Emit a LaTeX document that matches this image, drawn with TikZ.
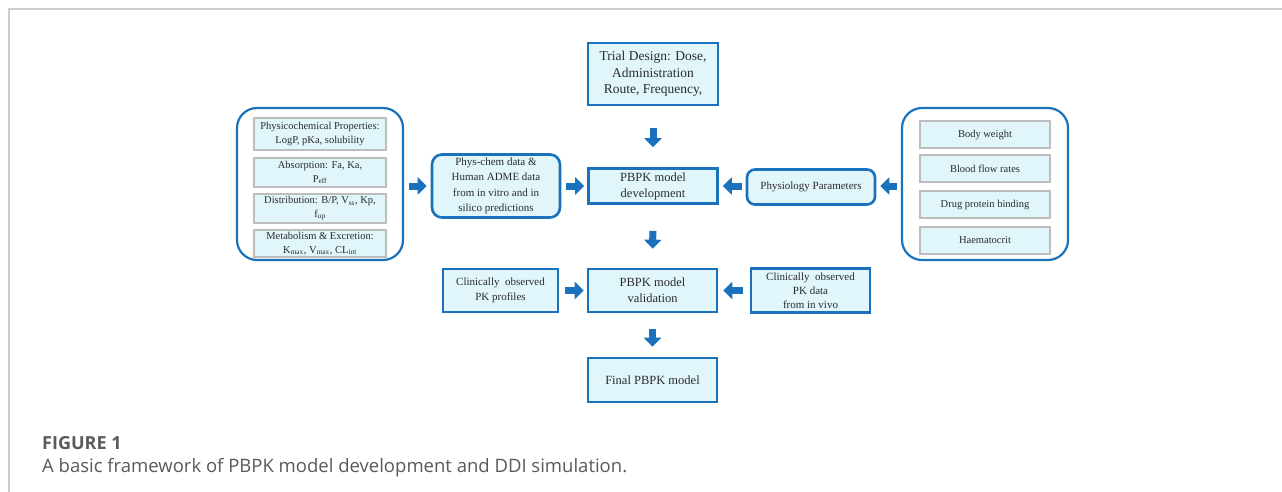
\documentclass[tikz,border=0pt]{standalone}
\usepackage{fontspec}
\setmainfont{Liberation Serif}
\newfontfamily\capfont{Open Sans}
\usetikzlibrary{arrows.meta}
\definecolor{bblue}{HTML}{1A72BD}
\definecolor{afill}{HTML}{E0F6FB}
\definecolor{ibord}{HTML}{BDBDBD}
\definecolor{txt}{HTML}{2B2B2B}
\definecolor{capc}{HTML}{5A5A5A}
\definecolor{framec}{HTML}{CCCCCC}
\begin{document}
\begin{tikzpicture}[x=1pt,y=-1pt,
 mainbox/.style={draw=bblue, line width=2.6pt, fill=afill, align=center, text=txt, inner sep=0pt, font=\fontsize{11}{15}\selectfont},
 bigbox/.style={mainbox, font=\fontsize{12.5}{16}\selectfont},
 roundbox/.style={mainbox, rounded corners=10pt},
 group/.style={draw=bblue, line width=2.2pt, rounded corners=20pt, inner sep=0pt},
 inbox/.style={draw=ibord, line width=2pt, fill=afill, align=center, text=txt, inner sep=0pt, font=\fontsize{10.5}{13.5}\selectfont},
 flow/.style={draw=bblue, line width=7pt, -{Triangle[width=17pt,length=9pt]}},
 captitle/.style={anchor=base west, inner sep=0pt, text=capc, font=\capfont\bfseries\fontsize{18}{22}\selectfont},
 captext/.style={anchor=base west, inner sep=0pt, text=capc, font=\capfont\fontsize{18.5}{22}\selectfont},
]
\useasboundingbox[fill=white] (0,0) rectangle (1282,492);
\draw[framec, line width=1.5pt] (9,492) -- (9,9) -- (1282,9);

% left group
\node[group, minimum width=166pt, minimum height=152pt] (lgrp) at (320,184) {};
\node[inbox, minimum width=132pt, minimum height=32pt] (pc) at (320,134) {Physicochemical Properties:\\ LogP, pKa, solubility};
\node[inbox, minimum width=132pt, minimum height=29pt] (ab) at (320,172.5) {Absorption: Fa, Ka,\\ P\textsubscript{eff}};
\node[inbox, minimum width=132pt, minimum height=29pt] (di) at (320,208.5) {Distribution: B/P, V\textsubscript{ss}, Kp,\\ f\textsubscript{up}};
\node[inbox, minimum width=132pt, minimum height=27pt] (me) at (320,243.5) {Metabolism \& Excretion:\\ K\textsubscript{max}, V\textsubscript{max}, CL\textsubscript{int}};

% right group
\node[group, minimum width=166pt, minimum height=152pt] (rgrp) at (985,184) {};
\node[inbox, minimum width=130pt, minimum height=27pt] (bw) at (985,134.5) {Body weight};
\node[inbox, minimum width=130pt, minimum height=27pt] (bf) at (985,168.5) {Blood flow rates};
\node[inbox, minimum width=130pt, minimum height=27pt] (dp) at (985,204.5) {Drug protein binding};
\node[inbox, minimum width=130pt, minimum height=27pt] (ha) at (985,240) {Haematocrit};

% main boxes
\node[roundbox, minimum width=128pt, minimum height=63pt, font=\fontsize{11}{15.5}\selectfont] (phys) at (496,186) {Phys-chem data \&\\ Human ADME data\\ from in vitro and in\\ silico predictions};
\node[mainbox, minimum width=130pt, minimum height=62pt, font=\fontsize{13.5}{16.5}\selectfont] (trial) at (653,74) {Trial Design: Dose,\\ Administration\\ Route, Frequency,};
\node[bigbox, minimum width=129pt, minimum height=35pt] (dev) at (653,186) {PBPK model\\ development};
\node[roundbox, minimum width=128pt, minimum height=35pt, rounded corners=8pt] (physio) at (811,187) {Physiology Parameters};
\node[mainbox, minimum width=115pt, minimum height=43pt] (clin) at (500.5,290.5) {Clinically\ \ observed\\ PK profiles};
\node[bigbox, minimum width=129pt, minimum height=43pt] (val) at (652.5,290.5) {PBPK model\\ validation};
\node[mainbox, minimum width=119pt, minimum height=44pt, font=\fontsize{11}{14}\selectfont] (clin2) at (810.5,290.5) {Clinically\ \ observed\\ PK data\\ from in vivo};
\node[bigbox, minimum width=129pt, minimum height=44pt] (final) at (652.5,380) {Final PBPK model};

% arrows
\draw[flow, shorten <=5pt, shorten >=4pt] (lgrp.east |- dev) -- (phys.west |- dev);
\draw[flow, shorten <=5pt, shorten >=3pt] (phys.east |- dev) -- (dev.west);
\draw[flow, shorten <=4pt, shorten >=4pt] (physio.west |- dev) -- (dev.east);
\draw[flow, shorten <=4pt, shorten >=4pt] (rgrp.west |- dev) -- (physio.east |- dev);
\draw[flow, shorten <=22pt, shorten >=20pt] (trial.south) -- (dev.north);
\draw[flow, shorten <=26pt, shorten >=19pt] (dev.south) -- (val.north);
\draw[flow, shorten <=16pt, shorten >=10pt] (val.south) -- (final.north);
\draw[flow, shorten <=6pt, shorten >=3pt] (clin.east) -- (val.west);
\draw[flow, shorten <=7pt, shorten >=5pt] (clin2.west) -- (val.east);

% caption
\node[captitle] (figt) at (42,449) {FIGURE 1};
\node[captext] (figc) at (42,472) {A basic framework of PBPK model development and DDI simulation.};
\end{tikzpicture}
\end{document}
